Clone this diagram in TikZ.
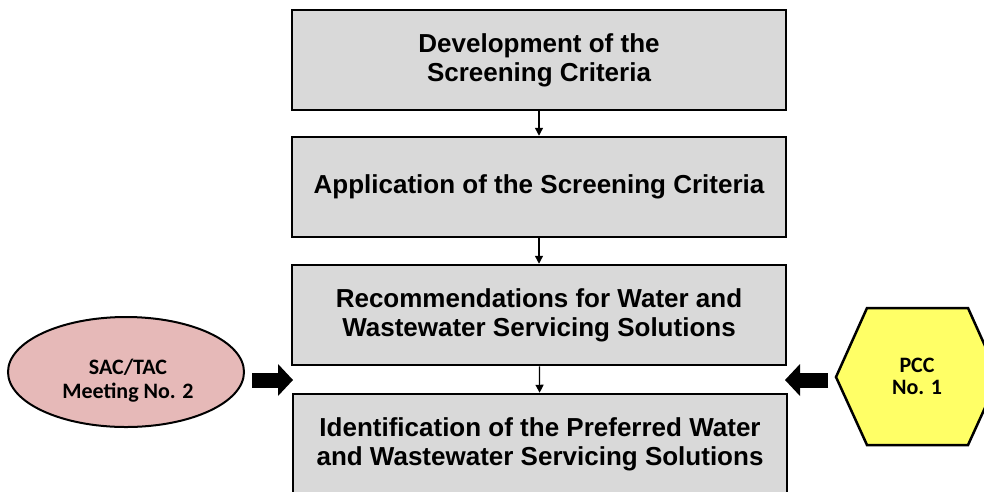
\documentclass[tikz,border=0pt]{standalone}
\usepackage{fontspec}
\setmainfont{Liberation Sans}
\newfontfamily\carlito{Carlito}
\usepackage{tikz}
\usetikzlibrary{arrows.meta}
\usetikzlibrary{shapes.geometric}

\definecolor{stagegray}{RGB}{217,217,217}
\definecolor{meetpink}{RGB}{230,185,184}
\definecolor{pccyellow}{RGB}{255,255,102}

\begin{document}
\begin{tikzpicture}[x=1pt,y=-1pt,
            stage/.style={draw, line width=2.5pt, fill=stagegray, minimum width=494pt, minimum height=100pt, align=center, font=\bfseries\fontsize{26}{29}\selectfont},
            flow/.style={line width=1.3pt, -{Triangle[length=8pt,width=8pt]}},
            bigarrow/.style={line width=15pt, -{Triangle[length=15pt,width=32pt,line width=0pt]}},
            bubble/.style={align=center, font=\carlito\bfseries\fontsize{22}{23}\selectfont}]
            \useasboundingbox (0,0) rectangle (984,491);

            \node[stage] (dev) at (539,60) {Development of the\\Screening Criteria};
            \node[stage] (app) at (539,187) {Application of the Screening Criteria};
            \node[stage] (rec) at (539,315) {Recommendations for Water and\\Wastewater Servicing Solutions};
            \node[stage] (pref) at (540,444) {Identification of the Preferred Water\\and Wastewater Servicing Solutions};

            \draw[flow] (dev) -- (app);
            \draw[flow] (app) -- (rec);
            \draw[flow] (rec) -- (pref);

            \node[ellipse, draw, line width=2pt, fill=meetpink, minimum width=236pt, minimum height=110pt] (sac) at (126,372) {};
            \node[bubble, font=\carlito\bfseries\fontsize{22}{24}\selectfont] (sactext) at (128,381) {SAC/TAC\\Meeting No. 2};

            \coordinate (hexw) at (836,377);
            \filldraw[fill=pccyellow, line width=2.5pt] (hexw) -- (867,308) -- (968,308) -- (999,377) -- (968,445) -- (867,445) -- cycle;
            \node[bubble, font=\carlito\bfseries\fontsize{22}{22}\selectfont] (pcc) at (917,376) {PCC\\No. 1};

            \coordinate (lt) at (293,380);
            \coordinate (rt) at (785,380);
            \draw[bigarrow] (sac.east |- lt) ++(7,0) -- (lt);
            \draw[bigarrow] (hexw |- rt) ++(-8,0) -- (rt);
        \end{tikzpicture}
\end{document}
